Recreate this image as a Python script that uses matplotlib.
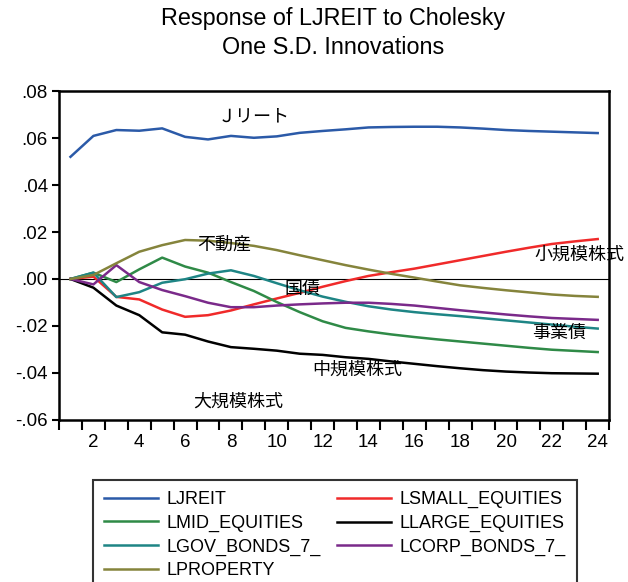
import numpy as np
import matplotlib
matplotlib.use("Agg")
import matplotlib.pyplot as plt
from matplotlib.ticker import FixedLocator, NullFormatter

plt.rcParams['font.family'] = ['Liberation Sans', 'Noto Sans CJK JP']

# periods 1..24
periods = np.arange(1, 25)

ljreit = [0.0520, 0.0609, 0.0634, 0.0631, 0.0641, 0.0605, 0.0594, 0.0609,
          0.0601, 0.0607, 0.0622, 0.0630, 0.0637, 0.0645, 0.0647, 0.0648,
          0.0648, 0.0645, 0.0640, 0.0634, 0.0630, 0.0627, 0.0624, 0.0621]
lsmall = [0.0000, 0.0010, -0.0076, -0.0087, -0.0130, -0.0161, -0.0154, -0.0134,
          -0.0108, -0.0083, -0.0059, -0.0033, -0.0009, 0.0013, 0.0029, 0.0044,
          0.0062, 0.0080, 0.0098, 0.0116, 0.0133, 0.0149, 0.0160, 0.0170]
lmid = [0.0000, 0.0027, -0.0013, 0.0041, 0.0091, 0.0053, 0.0027, -0.0013,
        -0.0051, -0.0098, -0.0141, -0.0180, -0.0208, -0.0223, -0.0236, -0.0247,
        -0.0257, -0.0266, -0.0275, -0.0284, -0.0293, -0.0301, -0.0306, -0.0311]
llarge = [0.0000, -0.0037, -0.0113, -0.0154, -0.0227, -0.0237, -0.0266, -0.0290,
          -0.0297, -0.0305, -0.0318, -0.0323, -0.0333, -0.0340, -0.0351, -0.0361,
          -0.0371, -0.0380, -0.0388, -0.0394, -0.0398, -0.0401, -0.0402, -0.0403]
lgov = [0.0000, 0.0027, -0.0077, -0.0056, -0.0016, -0.0001, 0.0023, 0.0037,
        0.0013, -0.0018, -0.0048, -0.0075, -0.0097, -0.0116, -0.0130, -0.0141,
        -0.0150, -0.0158, -0.0167, -0.0176, -0.0185, -0.0194, -0.0203, -0.0211]
lcorp = [0.0000, -0.0023, 0.0059, -0.0013, -0.0047, -0.0073, -0.0101, -0.0120,
         -0.0120, -0.0113, -0.0108, -0.0104, -0.0101, -0.0101, -0.0106, -0.0113,
         -0.0123, -0.0133, -0.0142, -0.0151, -0.0159, -0.0166, -0.0170, -0.0174]
lproperty = [0.0000, 0.0017, 0.0067, 0.0116, 0.0144, 0.0166, 0.0163, 0.0153,
             0.0141, 0.0123, 0.0101, 0.0080, 0.0059, 0.0040, 0.0022, 0.0006,
             -0.0011, -0.0027, -0.0038, -0.0048, -0.0057, -0.0066, -0.0072, -0.0076]

series_names = ["LJREIT", "LSMALL_EQUITIES", "LMID_EQUITIES", "LLARGE_EQUITIES",
                "LGOV_BONDS_7_", "LCORP_BONDS_7_", "LPROPERTY"]
series_values = [ljreit, lsmall, lmid, llarge, lgov, lcorp, lproperty]
series_colors = ["#2b5aa8", "#f02a2a", "#2f8a47", "#000000",
                 "#1e8585", "#7a2a8a", "#85843c"]

y_ticks = [-0.06, -0.04, -0.02, 0.00, 0.02, 0.04, 0.06, 0.08]
y_tick_labels = ["-.06", "-.04", "-.02", ".00", ".02", ".04", ".06", ".08"]
x_ticks = list(range(2, 25, 2))

# annotations (text, period, value)
labels_jp = [("Ｊリート", 9.0, 0.0690, "center"),
             ("不動産", 7.7, 0.0146, "center"),
             ("国債", 11.1, -0.0043, "center"),
             ("小規模株式", 21.25, 0.0103, "left"),
             ("事業債", 22.3, -0.0231, "center"),
             ("中規模株式", 13.5, -0.0385, "center"),
             ("大規模株式", 8.3, -0.0522, "center")]

fig = plt.figure(figsize=(6.28, 5.82), dpi=100)
ax = fig.add_axes([0.094, 0.2784, 0.876, 0.5652])

# legend order in reference: LJREIT, LMID, LGOV, LPROPERTY | LSMALL, LLARGE, LCORP
handles = {}
for name, vals, col in zip(series_names, series_values, series_colors):
    h, = ax.plot(periods, vals, color=col, lw=1.8, label=name, zorder=3)
    handles[name] = h

ax.axhline(0, color="black", lw=0.8, zorder=2)

ax.set_xlim(0.5, 24.5)
ax.set_ylim(-0.06, 0.08)
ax.set_yticks(y_ticks)
ax.set_yticklabels(y_tick_labels)
ax.set_xticks(x_ticks)
ax.set_xticklabels([str(t) for t in x_ticks])
ax.tick_params(axis="x", which="major", length=0, pad=10, labelsize=13.5)
ax.xaxis.set_minor_locator(FixedLocator(np.arange(0.5, 25, 1.0)))
ax.xaxis.set_minor_formatter(NullFormatter())
ax.tick_params(axis="x", which="minor", length=7, width=1.5, direction="out")
ax.tick_params(axis="y", length=5, width=1.5, direction="out", labelsize=13.5, pad=3)
for sp in ax.spines.values():
    sp.set_linewidth(1.8)
    sp.set_zorder(5)

for txt, px, py, ha in labels_jp:
    ax.text(px, py, txt, ha=ha, va="center", fontsize=13,
            family=["Noto Sans CJK JP"], zorder=4, clip_on=False)

fig.text(0.53, 0.968, "Response of LJREIT to Cholesky", ha="center", va="center", fontsize=16.8)
fig.text(0.53, 0.919, "One S.D. Innovations", ha="center", va="center", fontsize=16.8)

order = ["LJREIT", "LMID_EQUITIES", "LGOV_BONDS_7_", "LPROPERTY",
         "LSMALL_EQUITIES", "LLARGE_EQUITIES", "LCORP_BONDS_7_"]
leg = fig.legend([handles[n] for n in order], order, ncol=2,
                 loc="upper left", bbox_to_anchor=(0.148, 0.1753),
                 borderaxespad=0, frameon=True, fancybox=False, fontsize=13,
                 handlelength=3.0, handletextpad=0.45, columnspacing=0.9,
                 labelspacing=0.36, borderpad=0.62)
leg.get_frame().set_edgecolor("black")
leg.get_frame().set_linewidth(1.5)

fig.savefig("out.png", dpi=100)
